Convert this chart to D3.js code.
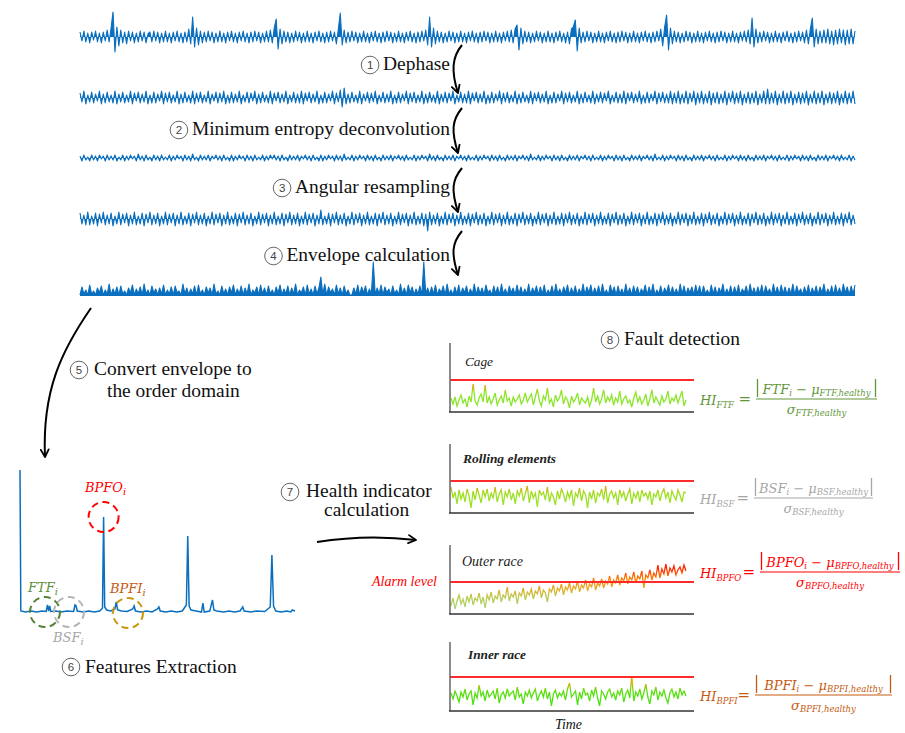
<!DOCTYPE html>
<html><head><meta charset="utf-8">
<script src="https://cdn.jsdelivr.net/npm/d3@7"></script>
<style>body{margin:0;background:#fff}</style>
</head><body><svg id="c" width="905" height="733"></svg>
<script>
// ---------------- DATA ----------------
const rawSignal=[5,-4,6,-5,4,-6,5,-3,6,-5,4,-6,5,-4,7,-5,9,25,-15,10,
-9,7,-6,5,-7,6,-4,5,-6,4,-5,6,-4,5,-6,3,5,-5,6,-4,
5,-6,4,-5,6,-5,4,-6,5,-4,6,-5,4,-6,5,-5,8,-7,20,-10,
9,-8,6,-6,5,-5,6,-4,5,-6,4,-5,6,-5,4,-6,5,-4,6,-5,
4,-6,5,-4,6,-5,4,-6,5,-5,6,-4,5,-6,4,-5,6,-5,7,-6,
9,18,-12,8,-7,6,-5,5,-6,4,-5,6,-4,5,-6,4,-5,6,-5,4,
-6,5,-4,6,-5,4,-6,5,-5,6,-4,5,-7,8,24,-8,7,-6,5,-5,
6,-4,5,-6,4,-5,6,-5,4,-6,5,-4,6,-5,4,-6,5,-5,6,-4,
5,-6,4,-5,6,-5,4,-6,5,-4,6,-5,4,-6,5,-5,6,-4,7,-8,
20,-10,9,-7,6,-5,5,-6,4,-5,6,-4,5,-6,4,-5,6,-5,4,-6,
5,-4,6,-5,4,-6,5,-5,6,-4,5,-6,4,-5,6,-5,4,-6,5,-4,
6,-5,7,-6,8,12,-13,9,-7,6,-5,5,-6,4,-5,6,-4,5,-6,4,
-5,6,-5,4,-6,5,-4,6,-5,4,-6,5,-7,8,10,17,-14,9,-6,5,
-5,6,-4,5,-6,4,-5,6,-5,4,-6,5,-4,6,-5,4,-6,5,-5,6,
-4,5,-6,4,-5,6,-5,4,-6,5,-4,6,-5,4,-6,5,-5,6,-4,8,
-9,10,22,-13,9,-7,6,-5,5,-6,4,-5,6,-4,5,-6,4,-5,6,-5,
4,-6,5,-4,6,-5,4,-6,5,-5,6,-4,5,-6,4,-5,6,-5,4,-6,
5,-4,6,-5,7,-7,19,-10,8,-6,5,-5,6,-4,5,-6,4,-5,6,-5,
4,-6,5,-4,6,-5,4,-6,5,-5,6,-4,5,-6,7,-7,8,19,-10,8,
-7,6,-6,7,-6,8,-7,6,-8,7,-7,8,-6,7,-8,7,-7,8,-7,6];
const dephasedSignal=[5,-4,7,-6,3,-4,6,-5,4,-3,7,-6,4,-5,6,-4,3,-5,7,-6,
4,-4,6,-5,3,-4,7,-6,5,-3,6,-5,4,-4,7,-6,3,-5,6,-5,
4,-3,7,-6,5,-4,6,-5,3,-4,7,-6,4,-5,6,-4,3,-5,7,-6,
5,-4,6,-5,3,-4,7,-6,4,-3,6,-5,5,-4,7,-6,3,-5,6,-5,
4,-4,7,-6,3,-4,6,-5,5,-3,7,-6,4,-5,6,-4,3,-5,7,-6,
5,-3,6,-5,4,-4,7,-6,3,-4,6,-5,4,-5,7,-6,5,-3,6,-5,
4,-4,7,-6,3,-5,6,-5,4,-3,7,-6,5,-4,8,-9,10,-6,4,-5,
6,-4,3,-5,7,-6,4,-3,6,-5,5,-4,7,-6,3,-4,6,-5,4,-4,
7,-6,3,-5,6,-5,4,-3,7,-6,5,-4,6,-5,3,-4,7,-6,4,-5,
6,-4,3,-5,7,-6,4,-4,6,-5,5,-3,7,-6,3,-4,6,-5,4,-5,
7,-6,5,-3,6,-5,4,-4,7,-6,3,-5,6,-5,4,-3,7,-6,5,-4,
6,-5,3,-4,7,-6,4,-5,6,-4,3,-5,7,-6,5,-3,6,-5,4,-4,
7,-6,3,-5,6,-5,4,-3,7,-6,5,-4,6,-5,3,-4,7,-6,4,-5,
6,-4,3,-5,7,-6,4,-4,6,-5,5,-3,7,-6,3,-4,6,-5,4,-5,
7,-6,5,-3,6,-5,4,-4,7,-6,3,-5,6,-5,4,-3,7,-6,5,-4,
6,-5,4,-5,7,-6,5,-5,7,-6,4,-5,7,-6,5,-4,7,-7,5,-5,
7,-6,4,-5,7,-7,5,-5,6,-6,4,-5,7,-7,5,-4,7,-6,5,-5,
7,-7,4,-5,6,-6,5,-5,7,-7,4,-5,7,-6,9,-6,5,-5,7,-7,
4,-5,7,-6,5,-5,7,-7,4,-5,6,-6,5,-5,7,-7,4,-5,7,-6,
5,-5,7,-7,4,-5,6,-6,5,-5,7,-7,4,-5,7,-6,5,-5,7,-6];
const medSignal=[2,-3,3,-2,1,-3,3,-2,2,-3,3,-1,2,-3,3,-2,2,-2,3,-3,
1,-2,3,-3,2,-2,3,-1,2,-3,4,-2,2,-3,3,-2,1,-3,3,-2,
2,-3,3,-2,1,-2,3,-3,2,-2,3,-1,2,-3,3,-2,2,-3,4,-2,
1,-3,3,-2,2,-2,3,-3,2,-1,3,-2,2,-3,3,-2,1,-3,3,-3,
2,-2,3,-1,2,-3,3,-2,2,-3,3,-2,1,-2,3,-3,2,-2,3,-1,
3,-2,2,-3,3,-2,1,-3,3,-2,2,-2,3,-3,2,-1,3,-2,2,-3,
3,-2,1,-3,3,-3,2,-2,3,-1,2,-3,3,-2,2,-3,4,-2,1,-2,
3,-3,2,-2,3,-1,2,-3,3,-2,2,-3,3,-2,1,-3,3,-2,2,-2,
3,-3,2,-1,3,-2,2,-3,3,-2,1,-2,3,-3,2,-2,3,-1,2,-3,
4,-2,2,-3,3,-2,1,-3,3,-2,2,-2,3,-3,2,-1,3,-2,2,-3,
3,-2,1,-2,3,-3,2,-2,3,-1,2,-3,3,-2,2,-3,3,-2,1,-3,
3,-2,2,-2,3,-3,2,-1,3,-2,2,-3,4,-2,1,-2,3,-3,2,-2,
3,-1,2,-3,3,-2,2,-3,3,-2,1,-3,3,-2,2,-2,3,-3,2,-1,
3,-2,2,-3,3,-2,1,-2,3,-3,2,-2,3,-1,2,-3,3,-2,2,-3,
3,-2,1,-3,3,-2,2,-2,3,-3,2,-1,3,-2,2,-3,4,-2,1,-2,
3,-3,2,-2,3,-1,2,-3,3,-2,2,-3,3,-2,1,-3,3,-2,2,-2,
3,-3,2,-1,3,-2,2,-3,3,-2,1,-2,3,-3,2,-2,3,-1,2,-3,
3,-2,2,-3,3,-2,1,-3,3,-2,2,-2,3,-3,2,-1,3,-2,2,-3,
3,-2,1,-2,3,-3,2,-2,3,-1,2,-3,3,-2,2,-3,3,-2,1,-3,
3,-2,2,-2,3,-3,2,-1,3,-2,2,-3,3,-2,1,-2,3,-3,2,-2];
const angularSignal=[6,-5,4,-6,7,-6,3,-5,6,-7,5,-4,7,-6,4,-5,6,-7,3,-5,
7,-6,5,-4,6,-7,4,-5,7,-6,3,-5,6,-7,5,-4,7,-6,4,-5,
6,-7,3,-5,7,-6,5,-4,6,-7,4,-5,7,-6,3,-5,6,-7,5,-4,
7,-6,4,-5,6,-7,3,-5,7,-6,5,-4,6,-7,4,-5,7,-6,3,-5,
6,-7,5,-4,7,-6,4,-5,6,-7,3,-5,7,-6,5,-4,6,-7,4,-5,
7,-6,3,-5,6,-7,5,-4,7,-6,4,-5,6,-7,3,-5,7,-6,5,-4,
6,-7,4,-5,9,-6,3,-5,6,-7,5,-4,7,-6,4,-5,6,-7,3,-5,
7,-6,5,-4,6,-7,4,-5,7,-6,3,-5,6,-7,5,-4,7,-6,4,-5,
6,-7,3,-5,7,-6,5,-4,6,-7,4,-5,7,-6,3,-5,6,-7,5,-12,
7,-6,4,-5,6,-7,3,-5,7,-6,5,-4,6,-7,4,-5,7,-6,3,-5,
6,-7,5,-4,7,-6,4,-5,6,-7,3,-5,7,-6,5,-4,6,-7,4,-5,
7,-6,3,-5,6,-7,5,-4,7,-6,4,-5,6,-7,3,-5,7,-6,5,-4,
6,-7,4,-5,7,-6,3,-5,6,-7,5,-4,7,-6,4,-5,6,-7,3,-5,
7,-6,5,-4,6,-7,4,-5,7,-6,3,-5,6,-7,5,-4,7,-6,4,-5,
6,-7,3,-5,7,-6,5,-4,6,-7,4,-5,7,-6,3,-5,6,-7,5,-4,
7,-6,4,-5,6,-7,3,-5,7,-6,5,-4,6,-7,4,-5,7,-6,3,-5,
6,-7,5,-4,7,-6,4,-5,6,-7,3,-5,7,-6,5,-4,6,-7,4,-5,
7,-6,3,-5,6,-7,5,-4,7,-6,4,-5,6,-7,3,-5,7,-6,5,-4,
6,-7,4,-5,7,-6,3,-5,6,-7,5,-4,7,-6,4,-5,6,-7,3,-5,
7,-6,5,-4,6,-7,4,-5,7,-6,3,-5,6,-7,5,-4,7,-6,4,-5];
const envelopeSignal=[1,9,2,6,1,11,2,5,1,8,3,10,1,6,2,12,1,7,2,9,
1,10,2,5,1,8,3,11,1,7,2,9,1,12,2,6,1,10,3,7,
1,8,2,11,1,6,2,9,1,10,3,5,1,12,2,8,1,7,2,10,
1,11,2,6,1,9,3,8,1,12,2,5,1,10,2,7,1,9,3,11,
1,7,2,10,1,8,2,12,1,6,3,9,1,11,2,8,1,10,2,6,
1,9,3,11,1,7,2,10,1,8,2,12,1,6,3,9,1,11,2,7,
1,10,2,8,19,2,12,1,9,3,7,1,11,2,8,1,10,2,6,1,
1,8,2,11,1,9,3,10,1,7,2,34,1,8,2,11,1,9,3,7,
1,10,2,6,1,12,2,8,1,11,3,9,1,7,2,10,1,34,2,8,
1,9,2,11,1,7,3,10,1,12,2,6,1,9,2,11,1,8,3,10,
1,7,2,12,1,9,2,8,1,11,3,6,1,10,2,9,1,12,2,7,
1,10,3,8,1,11,2,9,1,7,2,12,1,8,3,10,1,9,2,11,
1,6,2,10,1,12,2,7,1,9,3,11,1,8,2,10,1,7,2,12,
1,9,3,11,1,8,2,10,1,12,2,6,1,11,3,9,1,10,2,7,
1,12,2,8,1,10,2,9,1,7,3,11,1,9,2,12,1,6,2,10,
1,8,3,11,1,9,2,7,1,12,2,10,1,8,3,9,1,11,2,10,
1,10,2,6,1,11,2,9,1,8,3,12,1,7,2,10,1,9,2,11,
1,7,3,10,1,12,2,8,1,9,2,11,1,10,3,7,1,12,2,9,
1,11,2,9,1,8,2,12,1,10,3,7,1,9,2,11,1,8,2,10,
1,9,3,12,1,7,2,10,1,11,2,8,1,12,3,9,1,10,2,11];
const stepLabels=["Dephase","Minimum entropy deconvolution","Angular resampling","Envelope calculation"];
const spectrumOrders=[0,0.03,0.2,0.4,0.6,0.8,0.95,1.0,1.04,1.08,1.12,1.3,1.5,1.7,1.95,2.0,2.04,2.08,2.3,2.5,2.7,2.9,3.0,3.04,3.08,3.15,3.3,3.45,3.5,3.55,3.7,3.9,4.1,4.15,4.2,4.4,4.6,4.8,5.0,5.05,5.1,5.3,5.5,5.7,5.9,6.05,6.1,6.15,6.22,6.4,6.6,6.65,6.7,6.9,7.0,7.05,7.15,7.4,7.6,7.8,8.0,8.1,8.15,8.4,8.6,8.9,9.1,9.16,9.22,9.3,9.5,9.7,9.85,9.9,10];
const spectrumAmps=[143,2,1,2,1,2,1.5,8,2,7,1.5,2,1,2,1.5,8,7,2,1,2,1,2,5,96,6,3,2,4,11,3,2,1.5,4,7,2,1,2,1,4,6,2,1,2,1,2,8,77,7,3,2,1,10,1,2,13,3,2,1,2,1,2,6,2,1,2,1.5,6,58,7,2,1,2,1,3,2];
const panelNames=["Cage","Rolling elements","Outer race","Inner race"];
const hiCage=[1.4,0.8,1.5,0.6,1.2,1.7,0.9,1.3,0.5,1.6,1.0,2.8,1.1,0.7,1.4,1.8,1.0,2.7,0.9,1.5,
0.8,1.3,1.9,0.7,1.2,1.6,0.9,2.2,1.1,1.4,0.6,1.5,1.0,1.3,1.7,0.8,1.2,1.9,1.0,1.4,
1.8,0.7,1.5,2.3,1.1,0.6,1.6,1.2,2.4,0.9,1.3,0.5,1.7,1.1,1.4,2.2,0.8,1.5,1.2,0.4,
1.6,1.0,1.3,1.9,0.7,1.4,1.1,0.9,1.5,0.6,1.2,2.4,1.0,1.6,0.8,1.3,2.2,0.9,1.5,1.1,
1.7,0.7,1.4,1.0,2.1,0.8,1.3,1.6,0.9,1.2,0.5,1.4,2.0,1.0,1.5,0.8,1.2,1.8,0.6,1.3,
2.2,0.9,1.5,1.1,0.7,1.6,1.0,1.3,2.1,0.8,1.4,1.1,1.7,0.9,1.5,2.1,0.6,1.2];
const hiRolling=[2.6,1.5,2.1,0.9,2.3,1.4,2.0,1.1,2.4,1.7,0.5,2.2,1.3,2.5,1.8,1.0,2.3,1.6,2.4,1.2,
2.0,1.5,2.6,1.1,1.9,2.3,0.8,2.1,1.6,2.4,1.3,2.0,0.9,2.2,1.7,2.5,1.2,1.9,2.7,1.0,
2.2,1.5,2.0,0.6,2.3,1.8,2.1,1.3,2.6,1.1,2.0,1.6,0.8,2.2,1.4,2.4,1.9,1.1,2.1,1.5,
2.3,0.7,2.0,1.6,2.5,1.2,2.2,1.8,0.5,2.1,1.4,2.3,1.0,2.0,1.7,2.4,1.3,2.7,1.0,1.9,
2.2,1.5,2.0,0.8,2.3,1.6,2.1,1.2,1.9,2.4,0.9,2.0,1.5,2.2,1.1,2.3,1.7,2.0,1.4,2.2,
0.8,1.9,1.6,2.3,1.2,2.0,2.4,1.5,2.1,1.0,2.2,1.7,1.3,2.3,1.8,1.1,2.1,2.0];
const hiOuter=[0.8,1.6,0.5,1.3,1.9,1.0,1.5,0.7,1.8,1.2,2.0,0.9,1.6,1.3,2.1,1.0,1.7,0.6,1.9,1.4,
2.2,1.1,1.8,1.5,2.4,1.2,1.9,1.6,2.7,1.3,2.0,1.7,2.3,1.0,2.1,1.8,2.6,1.4,2.2,1.9,
2.5,1.5,2.3,2.0,2.8,1.6,2.4,2.1,1.2,2.5,2.2,2.9,1.8,2.6,2.3,3.0,1.9,2.7,2.4,3.1,
2.1,2.8,2.5,3.3,2.2,2.9,2.6,3.4,2.3,3.0,2.7,3.6,2.4,3.1,2.8,3.5,2.6,3.3,3.0,3.8,
2.7,3.4,3.1,3.9,2.9,3.6,3.3,4.1,3.0,3.7,3.4,4.2,3.1,3.8,3.5,4.3,2.6,3.9,3.6,4.4,
3.4,4.1,3.7,4.9,3.6,4.5,4.0,5.0,3.8,4.6,4.2,4.8,3.9,4.4,4.7,4.1,4.9,4.3];
const hiInner=[1.8,1.2,2.0,1.5,0.9,1.9,1.4,2.2,1.1,1.7,2.0,0.6,1.8,1.3,2.6,1.5,1.9,1.0,2.1,1.4,
1.7,2.0,1.2,2.3,0.8,1.6,1.9,1.3,2.2,1.5,1.8,2.0,1.1,2.4,1.4,1.7,0.7,1.9,1.5,2.1,
1.3,1.8,2.2,1.0,1.6,2.0,1.4,2.3,1.2,1.9,0.5,1.7,2.1,1.3,1.8,1.5,2.0,1.1,2.2,2.8,
1.4,1.7,2.0,0.6,1.9,1.2,2.3,1.6,1.8,1.0,2.1,1.5,2.4,1.3,0.5,2.0,1.7,1.2,1.9,2.2,
1.4,1.8,1.1,2.0,1.6,2.3,0.9,1.7,2.1,1.3,3.5,1.0,1.9,1.5,2.2,1.2,1.8,2.7,1.4,0.7,
2.0,1.6,2.4,1.1,1.9,1.5,2.1,1.3,0.8,1.8,2.2,1.4,1.9,1.2,2.3,1.6,2.0,1.5];
const alarmLevels=[3.2,3.2,3.2,3.4];
const featureNames=["FTF","BSF","BPFO","BPFI"];

// ---------------- LAYOUT / STYLE ----------------
const svg=d3.select("#c");
function measure(fam,txt,size,style,weight){
  const t=svg.append("text").attr("x",-2000).attr("y",-100).style("font-family",fam).attr("font-size",size)
    .attr("font-style",style||"normal").attr("font-weight",weight||"normal").text(txt);
  const w=t.node().getComputedTextLength(); t.remove(); return w;
}
const probeStr="Minimum entropy deconvolution";
const monoW=measure("monospace",probeStr,20);
const serifCands=["Liberation Serif","Tinos","Times New Roman","Times","Nimbus Roman","Noto Serif","DejaVu Serif Condensed","DejaVu Serif"];
const serifName=serifCands.find(f=>Math.abs(measure(`'${f}',monospace`,probeStr,20)-monoW)>0.5)||"serif";
const textFont=`'${serifName}',serif`;
const labelSize=+(18.7*258/measure(textFont,probeStr,18.7)).toFixed(2);
const mathFont="'DejaVu Serif',serif";
const blue="#0b6fbf";
const featColors={FTF:"#62963a",BSF:"#a6a6a6",BPFO:"#ff0000",BPFI:"#c55a11"};

const defs=svg.append("defs");
defs.append("marker").attr("id","ah").attr("viewBox","0 0 10 10").attr("refX",8.5).attr("refY",5)
  .attr("markerWidth",5).attr("markerHeight",5).attr("orient","auto").attr("markerUnits","strokeWidth")
  .append("path").attr("d","M1,1 L8.5,5 L1,9").attr("fill","none").attr("stroke","#000").attr("stroke-width",1.8).attr("stroke-linecap","round").attr("stroke-linejoin","round");

function circled(n,cx,cy){
  svg.append("circle").attr("cx",cx).attr("cy",cy).attr("r",8.8).attr("fill","none").attr("stroke","#555").attr("stroke-width",0.9);
  svg.append("text").attr("x",cx).attr("y",cy+4).attr("text-anchor","middle").attr("font-family","'Liberation Sans',sans-serif")
    .attr("font-size",11.5).attr("fill","#444").text(n);
}
function label(txt,x,y,anchor){
  return svg.append("text").attr("x",x).attr("y",y).attr("text-anchor",anchor||"start").style("font-family",textFont)
    .attr("font-size",labelSize).attr("fill","#111").text(txt);
}
function fitItalic(txt,x,y,targetW,weight,col){
  const s=20*targetW/measure(textFont,txt,20,"italic",weight);
  return svg.append("text").attr("x",x).attr("y",y).style("font-family",textFont).attr("font-style","italic")
    .attr("font-weight",weight||"normal").attr("font-size",s.toFixed(2)).attr("fill",col||"#222").text(txt);
}

// -------- time signals --------
const sigs=[{d:rawSignal,cy:37},{d:dephasedSignal,cy:98},{d:medSignal,cy:158},{d:angularSignal,cy:219},{d:envelopeSignal,cy:296}];
sigs.forEach(s=>{
  const x=d3.scaleLinear().domain([0,s.d.length-1]).range([80,855]);
  const y=d3.scaleLinear().domain([-30,30]).range([s.cy+30,s.cy-30]);
  svg.append("path").attr("d",d3.area().x((v,i)=>x(i)).y0(s.cy).y1(v=>y(v))(s.d))
    .attr("fill",blue).attr("stroke","none");
  svg.append("path").attr("d",d3.line().x((v,i)=>x(i)).y(v=>y(v))(s.d))
    .attr("fill","none").attr("stroke",blue).attr("stroke-width",1.1).attr("stroke-linejoin","round");
});

// step labels 1-4 with curved arrows
const stepBase=[70,135,193,261];
const arrowY=[[45,93],[108,153],[168,212],[231,275]];
stepLabels.forEach((s,i)=>{
  const t=label(s,450,stepBase[i],"end");
  const w=t.node().getComputedTextLength();
  circled(i+1,450-w-13,stepBase[i]-5);
  const [a,b]=arrowY[i];
  svg.append("path").attr("d",`M462,${a} C452,${a+12} 451,${b-22} 458,${b}`)
    .attr("fill","none").attr("stroke","#000").attr("stroke-width",2).attr("marker-end","url(#ah)");
});

// step 5
svg.append("path").attr("d","M91,308 C62,350 42,390 45,457").attr("fill","none").attr("stroke","#000").attr("stroke-width",2).attr("marker-end","url(#ah)");
circled(5,79,370);
label("Convert envelope to",94,375);
label("the order domain",107,397);

// -------- spectrum --------
const sx=d3.scaleLinear().domain([0,10]).range([20,295]);
const sy=d3.scaleLinear().domain([0,143]).range([613,470]);
svg.append("path").attr("d",d3.line().x((d,i)=>sx(spectrumOrders[i])).y(d=>sy(d))(spectrumAmps))
  .attr("fill","none").attr("stroke",blue).attr("stroke-width",1.5);

function dashCircle(cx,cy,col){
  svg.append("circle").attr("cx",cx).attr("cy",cy).attr("r",15).attr("fill","none").attr("stroke",col)
    .attr("stroke-width",2).attr("stroke-dasharray","7,4.5");
}
dashCircle(sx(3.04),517,"#ff0000");
dashCircle(45,612,"#548235");
dashCircle(69,612,"#b4b4b4");
dashCircle(128,613,"#c9960c");
function featLabel(name,x,y,col){
  const t=svg.append("text").attr("x",x).attr("y",y).attr("font-family",mathFont).attr("font-style","italic")
    .attr("font-size",13).attr("fill",col);
  t.append("tspan").text(name);
  t.append("tspan").attr("font-size",10).attr("dy",3).text("i");
}
featLabel("BPFO",85,492,featColors.BPFO);
featLabel("FTF",28,592,"#5e8f3a");
featLabel("BPFI",110,593,featColors.BPFI);
featLabel("BSF",53,642,"#a6a6a6");
circled(6,71,667);
label("Features Extraction",85,673);

// step 7
circled(7,290,492);
label("Health indicator",306,497);
label("calculation",324,516);
svg.append("path").attr("d","M317,542 Q367,534 416,540").attr("fill","none").attr("stroke","#000").attr("stroke-width",2).attr("marker-end","url(#ah)");

// step 8
circled(8,610,340);
label("Fault detection",624,345);

// -------- HI panels --------
const hiData=[hiCage,hiRolling,hiOuter,hiInner];
const panelBottom=[412,513,614,711];
const panelLabelPos=[[465,366],[463,463],[462,566],[468,659]];
const panelLabelW=[28,93,61,58];
const panelLabelWeight=["normal","bold","normal","bold"];
const gradStops=[
  [[0,"#86e62a"],[2.0,"#8ee628"],[2.6,"#f0a418"],[5,"#f0a418"]],
  [[0,"#8ee828"],[2.0,"#a0e020"],[2.6,"#eea018"],[5,"#eea018"]],
  [[0,"#9fd98a"],[1.6,"#b8cc52"],[2.6,"#e8a820"],[3.6,"#ff7a00"],[4.6,"#ff2400"],[6,"#ff2400"]],
  [[0,"#3ee010"],[2.0,"#5ce010"],[2.8,"#e0b000"],[5,"#e0b000"]]
];
hiData.forEach((d,k)=>{
  const b=panelBottom[k];
  const x=d3.scaleLinear().domain([0,d.length-1]).range([451,686]);
  const y=d3.scaleLinear().domain([0,7]).range([b,b-70]);
  const maxv=gradStops[k][gradStops[k].length-1][0];
  const g=defs.append("linearGradient").attr("id","hg"+k).attr("gradientUnits","userSpaceOnUse")
    .attr("x1",0).attr("x2",0).attr("y1",y(0)).attr("y2",y(maxv));
  gradStops[k].forEach(s=>g.append("stop").attr("offset",s[0]/maxv).attr("stop-color",s[1]));
  svg.append("path").attr("d",d3.line().x((v,i)=>x(i)).y(v=>y(v))(d)).attr("fill","none")
    .attr("stroke",`url(#hg${k})`).attr("stroke-width",1.3);
  svg.append("line").attr("x1",450).attr("x2",694).attr("y1",y(alarmLevels[k])).attr("y2",y(alarmLevels[k]))
    .attr("stroke","#ff2a2a").attr("stroke-width",2);
  svg.append("line").attr("x1",450).attr("x2",450).attr("y1",b-69).attr("y2",b).attr("stroke","#666").attr("stroke-width",1.5);
  svg.append("line").attr("x1",449).attr("x2",694).attr("y1",b).attr("y2",b).attr("stroke","#333").attr("stroke-width",1.5);
  fitItalic(panelNames[k],panelLabelPos[k][0],panelLabelPos[k][1],panelLabelW[k],panelLabelWeight[k]);
});
fitItalic("Alarm level",372,586,65,"normal","#ff0000");
fitItalic("Time",555,729,27,"normal","#111");

// -------- formulas --------
const lineYs=[399,498,572,695];
const lineX1=[756,754,760,755];
const lineX2=[877,873,900,892];
featureNames.forEach((name,k)=>{
  const col=featColors[name], ly=lineYs[k], x1=lineX1[k], x2=lineX2[k];
  const base=()=>svg.append("text").attr("font-family",mathFont).attr("font-style","italic").attr("fill",col);
  const hi=base().attr("x",700).attr("y",ly+6).attr("font-size",13);
  hi.append("tspan").text("HI");
  hi.append("tspan").attr("font-size",8.5).attr("dy",3).text(name);
  svg.append("text").attr("x",x1-5).attr("y",ly+5).attr("text-anchor","end").attr("font-family",mathFont)
    .attr("font-size",15).attr("fill",col).text("=");
  svg.append("line").attr("x1",x1).attr("x2",x2).attr("y1",ly).attr("y2",ly).attr("stroke",col).attr("stroke-width",1.2);
  [x1+1.5,x2-1.5].forEach(bx=>svg.append("line").attr("x1",bx).attr("x2",bx).attr("y1",ly-20).attr("y2",ly-2)
    .attr("stroke",col).attr("stroke-width",1.3));
  const num=base().attr("x",(x1+x2)/2).attr("y",ly-5).attr("text-anchor","middle").attr("font-size",13);
  num.append("tspan").text(name);
  num.append("tspan").attr("font-size",8.5).attr("dy",2).text("i");
  num.append("tspan").attr("dy",-2).text(" − μ");
  num.append("tspan").attr("font-size",8.5).attr("dy",2).text(name+",healthy");
  const den=base().attr("x",(x1+x2)/2).attr("y",ly+15).attr("text-anchor","middle").attr("font-size",13);
  den.append("tspan").text("σ");
  den.append("tspan").attr("font-size",8.5).attr("dy",2).text(name+",healthy");
});
</script></body></html>
